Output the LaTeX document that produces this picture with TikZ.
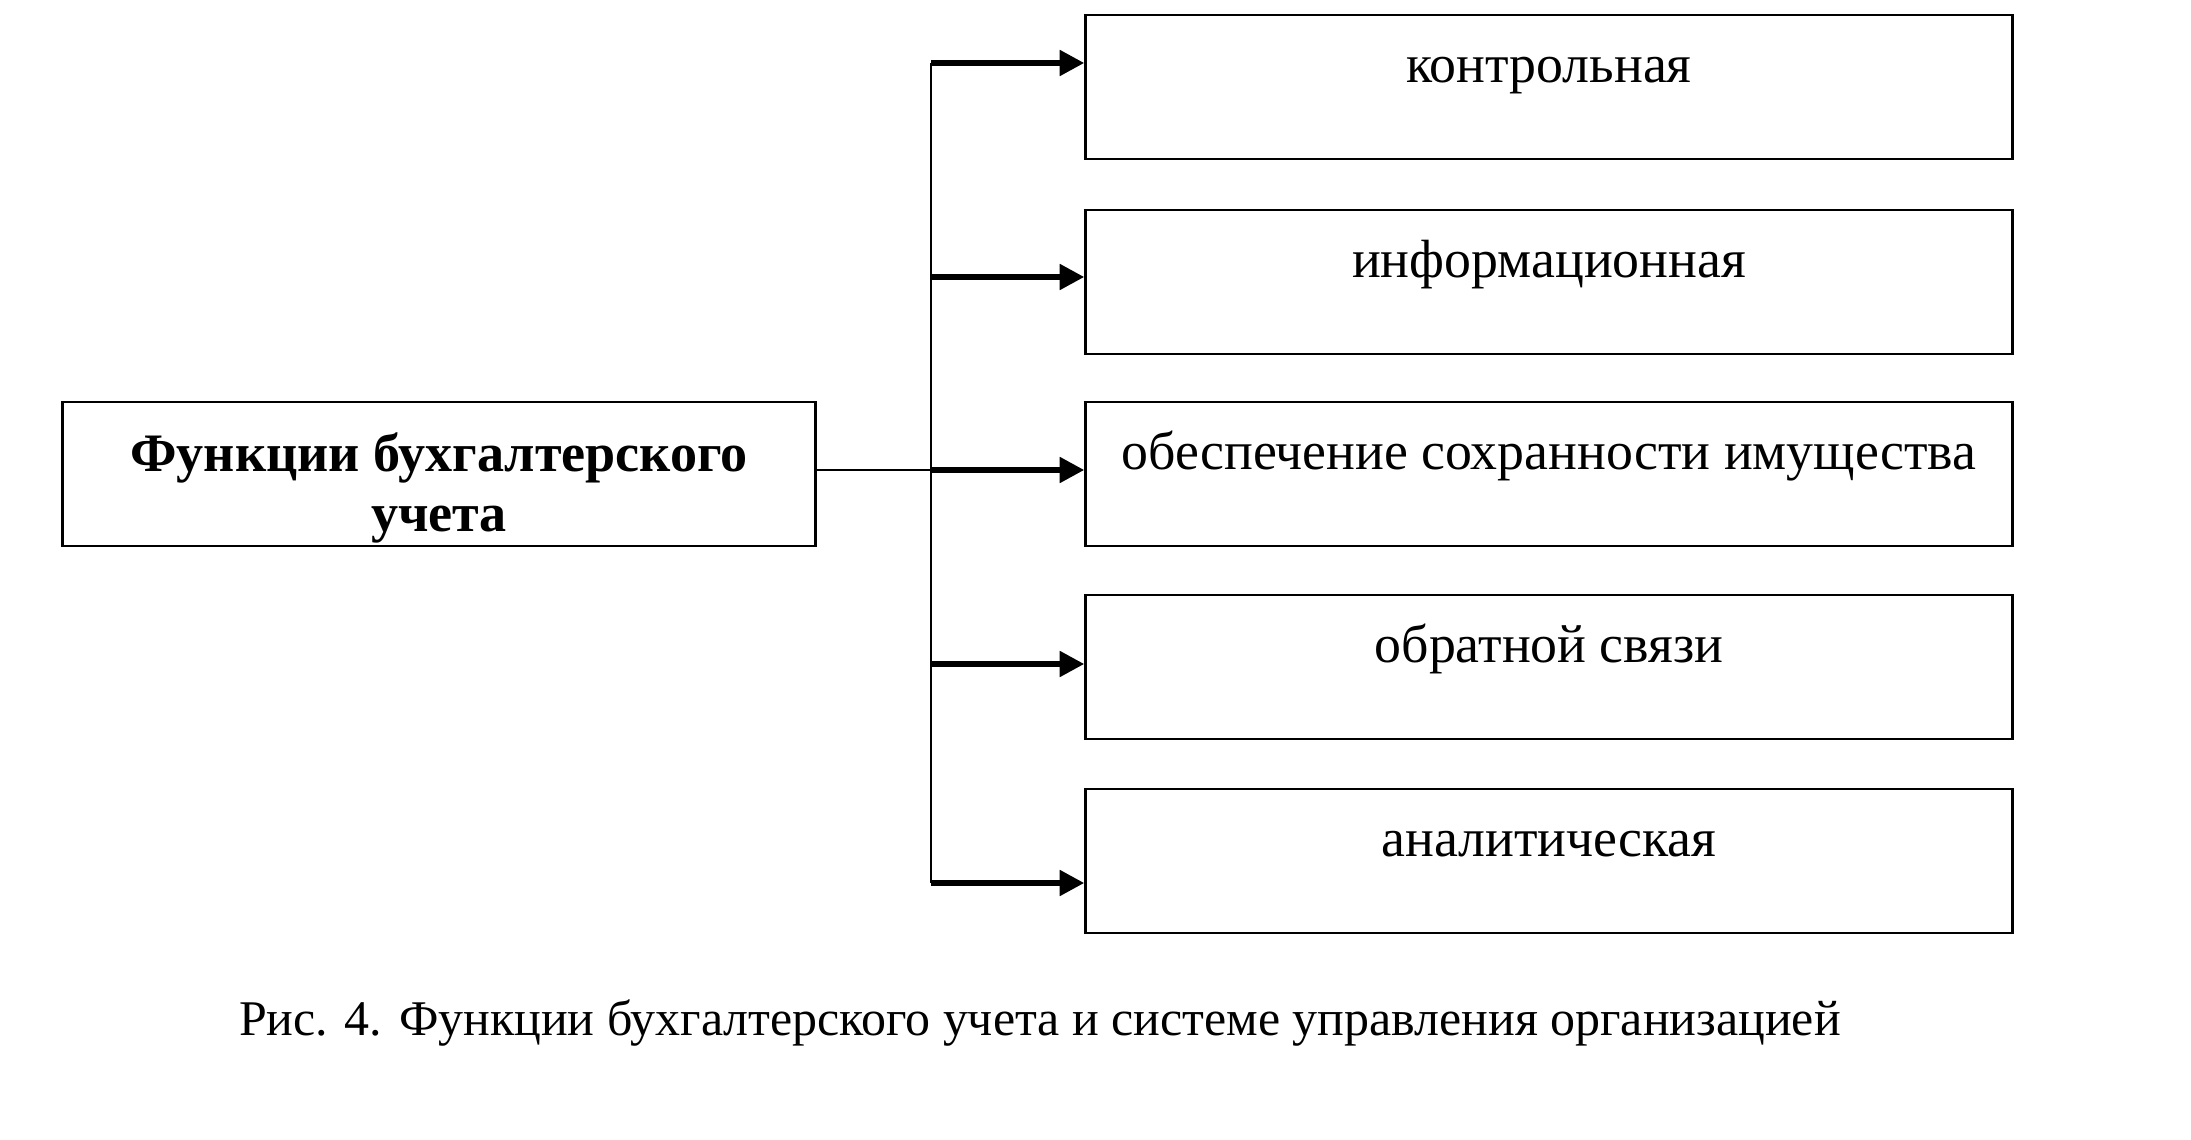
\documentclass[tikz,border=0pt]{standalone}
\usepackage{fontspec}
\setmainfont{Liberation Serif}
\usetikzlibrary{arrows.meta}

\begin{document}
\begin{tikzpicture}[x=0.01cm, y=-0.01cm, font=\fontsize{15.3}{17}\selectfont]
%% coordinates are in pixels of the scanned figure (y grows downwards)
\tikzstyle{box}=[draw, line width=0.8pt, minimum width=9.26cm, minimum height=1.44cm, inner sep=0pt, text height=0pt, text depth=2.3pt]
\tikzstyle{mainbox}=[draw, line width=0.8pt, minimum width=7.52cm, minimum height=1.44cm, inner sep=0pt]
\tikzstyle{maintext}=[align=center, inner sep=0pt, font=\fontsize{15.4}{17}\selectfont\bfseries]
\tikzstyle{arc}=[-{Triangle[length=7pt,width=7pt]}, line width=1.7pt]
\tikzstyle{link}=[line width=0.8pt]
\useasboundingbox (0,0) rectangle (2191,1140);
%% main box
\node[mainbox] at (439,474) (Main) {};
\node[maintext] at (439,488) (MainText) {Функции бухгалтерского\\учета};
%% function boxes
\node[box] at (1549,87) (Control) {контрольная};
\node[box] at (1549,282) (Inform) {информационная};
\node[box] at (1549,474) (Safety) {обеспечение сохранности имущества};
\node[box] at (1549,667) (Feedback) {обратной связи};
\node[box] at (1549,861) (Analytic) {аналитическая};
%% points on the trunk
\coordinate (T1) at (931,63);
\coordinate (T2) at (931,277);
\coordinate (T3) at (931,470);
\coordinate (T4) at (931,664);
\coordinate (T5) at (931,883);
\draw[link] (T1) -- (T5);
\draw[link] (Main.east |- T3) -- (T3);
\draw[arc] (T1) -- (T1 -| Control.west);
\draw[arc] (T2) -- (T2 -| Inform.west);
\draw[arc] (T3) -- (T3 -| Safety.west);
\draw[arc] (T4) -- (T4 -| Feedback.west);
\draw[arc] (T5) -- (T5 -| Analytic.west);
%% caption
\node[anchor=base, font=\fontsize{14.2}{17}\selectfont] at (1040,1035) (Caption) {Рис. 4. Функции бухгалтерского учета и системе управления организацией};
\end{tikzpicture}
\end{document}
